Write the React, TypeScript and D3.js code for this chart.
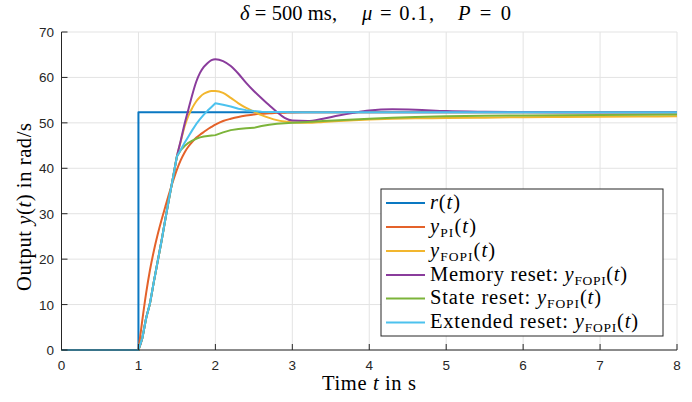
import React from 'react';
import * as d3 from 'd3';

const tGrid = [0, 1, 1.05, 1.1, 1.15, 1.2, 1.25, 1.3, 1.35, 1.4, 1.45, 1.5, 1.55, 1.6, 1.65, 1.7, 1.75, 1.8, 1.85, 1.9, 1.95, 2.0, 2.1, 2.2, 2.3, 2.4, 2.5, 2.6, 2.7, 2.8, 2.9, 3.0, 3.2, 3.4, 3.6, 3.8, 4.0, 4.3, 4.6, 5.0, 5.5, 6, 6.5, 7, 7.5, 8];

const rTime = [0, 1, 1, 8];
const rValues = [0, 0, 52.36, 52.36];

const piValues = [0, 0, 6.5, 12.5, 17.6, 21.8, 25.4, 28.6, 31.6, 34.5, 37.2, 39.7, 41.8, 43.5, 44.8, 45.8, 46.7, 47.4, 48.0, 48.6, 49.1, 49.6, 50.4, 50.9, 51.3, 51.6, 51.85, 52.0, 52.1, 52.2, 52.25, 52.3, 52.32, 52.34, 52.35, 52.35, 52.36, 52.36, 52.36, 52.36, 52.36, 52.36, 52.36, 52.36, 52.36, 52.36];

const fopiValues = [0, 0, 2.6, 7.0, 10.3, 15.0, 19.5, 24.0, 28.8, 33.5, 38.0, 42.6, 45.9, 49.2, 51.6, 53.3, 54.7, 55.7, 56.4, 56.8, 57.0, 57.0, 56.6, 55.5, 54.3, 53.3, 52.5, 51.7, 51.1, 50.6, 50.3, 50.1, 50.0, 50.2, 50.4, 50.6, 50.75, 50.9, 51.0, 51.05, 51.15, 51.25, 51.3, 51.35, 51.4, 51.45];

const memoryValues = [0, 0, 2.6, 7.0, 10.3, 15.0, 19.5, 24.0, 28.8, 33.5, 38.0, 42.6, 46.1, 49.8, 53.0, 56.2, 59.0, 61.0, 62.3, 63.2, 63.8, 64.0, 63.6, 62.5, 60.8, 58.8, 57.0, 55.4, 53.9, 52.4, 51.1, 50.5, 50.4, 50.9, 51.6, 52.2, 52.7, 53.0, 52.9, 52.6, 52.45, 52.38, 52.36, 52.36, 52.36, 52.36];

const stateValues = [0, 0, 2.6, 7.0, 10.3, 15.0, 19.5, 24.0, 28.8, 33.5, 38.0, 42.6, 44.0, 44.9, 45.6, 46.1, 46.5, 46.8, 47.0, 47.1, 47.2, 47.3, 47.9, 48.4, 48.65, 48.8, 48.9, 49.3, 49.6, 49.8, 49.9, 50.0, 50.2, 50.4, 50.6, 50.75, 50.9, 51.1, 51.3, 51.45, 51.55, 51.62, 51.7, 51.75, 51.8, 51.85];

const extendedValues = [0, 0, 2.6, 7.0, 10.3, 15.0, 19.5, 24.0, 28.8, 33.5, 38.0, 42.6, 44.1, 45.6, 47.0, 48.4, 49.7, 50.8, 51.8, 52.7, 53.5, 54.3, 54.0, 53.6, 53.1, 52.8, 52.6, 52.45, 52.4, 52.38, 52.37, 52.36, 52.36, 52.36, 52.36, 52.36, 52.36, 52.36, 52.36, 52.36, 52.36, 52.36, 52.36, 52.36, 52.36, 52.36];

const xTicks = [0, 1, 2, 3, 4, 5, 6, 7, 8];
const yTicks = [0, 10, 20, 30, 40, 50, 60, 70];

const W = 692;
const H = 402;
const left = 61.5;
const right = 677;
const top = 32;
const bottom = 350;

const serif = '"Liberation Serif", "DejaVu Serif", serif';
const sans = '"Liberation Sans", Arial, sans-serif';
const axisColor = '#262626';
const gridColor = '#e3e3e3';
const fs = 20.5;

type Series = { key: string; times: number[]; values: number[]; color: string; smooth: boolean; width: number };

const series: Series[] = [
  { key: 'r', times: rTime, values: rValues, color: '#0A78C2', smooth: false, width: 30 },
  { key: 'pi', times: tGrid, values: piValues, color: '#E4622A', smooth: true, width: 46 },
  { key: 'fopi', times: tGrid, values: fopiValues, color: '#F2B62E', smooth: true, width: 65 },
  { key: 'memory', times: tGrid, values: memoryValues, color: '#8A3C9C', smooth: true, width: 197 },
  { key: 'state', times: tGrid, values: stateValues, color: '#7CB43A', smooth: false, width: 171 },
  { key: 'extended', times: tGrid, values: extendedValues, color: '#4CC2EE', smooth: false, width: 208 },
];

function yf(sub: string) {
  return (
    <>
      <tspan fontStyle="italic">y</tspan>
      <tspan fontSize={13.5} dy={4}>{sub}</tspan>
      <tspan dy={-4}>(</tspan>
      <tspan fontStyle="italic">t</tspan>
      <tspan>)</tspan>
    </>
  );
}

function legendLabel(key: string) {
  switch (key) {
    case 'r':
      return (
        <>
          <tspan fontStyle="italic">r</tspan>
          <tspan>(</tspan>
          <tspan fontStyle="italic">t</tspan>
          <tspan>)</tspan>
        </>
      );
    case 'pi':
      return yf('PI');
    case 'fopi':
      return yf('FOPI');
    case 'memory':
      return (
        <>
          <tspan>Memory reset: </tspan>
          {yf('FOPI')}
        </>
      );
    case 'state':
      return (
        <>
          <tspan>State reset: </tspan>
          {yf('FOPI')}
        </>
      );
    default:
      return (
        <>
          <tspan>Extended reset: </tspan>
          {yf('FOPI')}
        </>
      );
  }
}

export default function App() {
  const x = d3.scaleLinear().domain([0, 8]).range([left, right]);
  const yS = d3.scaleLinear().domain([0, 70]).range([bottom, top]);

  const makePath = (s: Series) => {
    if (!s.smooth) {
      const line = d3
        .line<number>()
        .x((_, i) => x(s.times[i]))
        .y((v) => yS(v));
      return line(s.values) || '';
    }
    const flat = d3
      .line<number>()
      .x((_, i) => x(s.times[i]))
      .y((v) => yS(v));
    const smooth = d3
      .line<number>()
      .x((_, i) => x(s.times[i + 1]))
      .y((v) => yS(v))
      .curve(d3.curveMonotoneX);
    return (flat(s.values.slice(0, 2)) || '') + (smooth(s.values.slice(1)) || '').replace(/^M/, 'L');
  };

  const legX = 381;
  const legY = 189;
  const legW = 282;
  const legH = 147;
  const rowY = [203, 227, 251, 275, 298.5, 322.5];

  return (
    <svg
      width={W}
      height={H}
      viewBox={`0 0 ${W} ${H}`}
      style={{ position: 'absolute', left: 0, top: 0, background: '#fff' }}
    >
      <rect x={0} y={0} width={W} height={H} fill="#fff" />
      <g stroke={gridColor} strokeWidth={1}>
        {xTicks.map((t) => (
          <line key={'gx' + t} x1={x(t)} x2={x(t)} y1={top} y2={bottom} />
        ))}
        {yTicks.map((t) => (
          <line key={'gy' + t} x1={left} x2={right} y1={yS(t)} y2={yS(t)} />
        ))}
      </g>
      <g fill="none" strokeWidth={2} strokeLinejoin="round">
        {series.map((s) => (
          <path key={s.key} d={makePath(s)} stroke={s.color} />
        ))}
      </g>
      <g stroke={axisColor} strokeWidth={1}>
        <line x1={left} x2={left} y1={top} y2={bottom} />
        <line x1={left} x2={right} y1={bottom} y2={bottom} />
        {xTicks.map((t) => (
          <line key={'tx' + t} x1={x(t)} x2={x(t)} y1={bottom} y2={bottom - 6} />
        ))}
        {yTicks.map((t) => (
          <line key={'ty' + t} x1={left} x2={left + 6} y1={yS(t)} y2={yS(t)} />
        ))}
      </g>
      <g fontFamily={sans} fontSize={13.5} fill={axisColor}>
        {xTicks.map((t) => (
          <text key={'lx' + t} x={x(t)} y={370} textAnchor="middle">
            {t}
          </text>
        ))}
        {yTicks.map((t) => (
          <text key={'ly' + t} x={54} y={yS(t) + 5} textAnchor="end">
            {t}
          </text>
        ))}
      </g>
      <g fontFamily={serif} fontSize={fs} fill="#000">
        <text x={240} y={20} textLength={97} lengthAdjust="spacing">
          <tspan fontStyle="italic">δ</tspan>
          <tspan> = 500 ms,</tspan>
        </text>
        <text x={362} y={20} textLength={72} lengthAdjust="spacing">
          <tspan fontStyle="italic">μ</tspan>
          <tspan> = 0.1,</tspan>
        </text>
        <text x={458} y={20} textLength={53} lengthAdjust="spacing">
          <tspan fontStyle="italic">P</tspan>
          <tspan> = 0</tspan>
        </text>
        <text x={322} y={390} textLength={94} lengthAdjust="spacing">
          <tspan>Time </tspan>
          <tspan fontStyle="italic">t</tspan>
          <tspan> in s</tspan>
        </text>
        <text transform="translate(31, 291) rotate(-90)" textLength={168} lengthAdjust="spacing">
          <tspan>Output </tspan>
          <tspan fontStyle="italic">y</tspan>
          <tspan>(</tspan>
          <tspan fontStyle="italic">t</tspan>
          <tspan>) in rad/s</tspan>
        </text>
      </g>
      <rect x={legX} y={legY} width={legW} height={legH} fill="#fff" stroke="#262626" strokeWidth={1} />
      {series.map((s, i) => (
        <g key={'leg' + s.key}>
          <line x1={386} x2={425} y1={rowY[i]} y2={rowY[i]} stroke={s.color} strokeWidth={2} />
          <text
            x={430}
            y={rowY[i] + 5.5}
            fontFamily={serif}
            fontSize={fs}
            fill="#000"
            textLength={s.width}
            lengthAdjust="spacing"
          >
            {legendLabel(s.key)}
          </text>
        </g>
      ))}
    </svg>
  );
}
